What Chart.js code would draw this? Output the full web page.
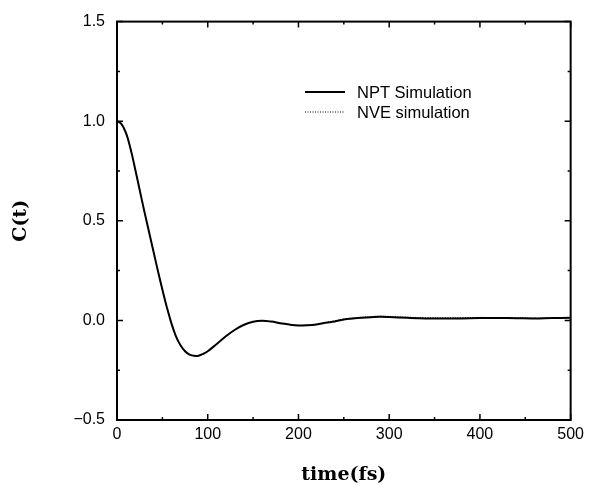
<!DOCTYPE html>
<html>
<head>
<meta charset="utf-8">
<script src="https://cdn.jsdelivr.net/npm/chart.js@4"></script>
<style>
  html, body { margin: 0; padding: 0; background: #fff; }
  #wrap { width: 589px; height: 485px; }
</style>
</head>
<body>
<div id="wrap"><canvas id="corrChart" width="589" height="485"></canvas></div>
<script>
// time axis (fs) and correlation function values
const timeFs = [0, 5, 10, 15, 20, 25, 30, 35, 40, 45, 50, 55, 60, 65, 70, 75, 80, 85, 90, 95, 100,
  110, 120, 130, 140, 150, 160, 170, 180, 190, 200, 210, 220, 230, 240, 250, 260, 270, 280, 290, 300,
  320, 340, 360, 380, 400, 420, 440, 460, 480, 500];
const nptValues = [1.0, 0.985, 0.94, 0.86, 0.76, 0.655, 0.55, 0.45, 0.35, 0.25, 0.155, 0.065, -0.015,
  -0.08, -0.125, -0.155, -0.172, -0.178, -0.177, -0.168, -0.155,
  -0.118, -0.08, -0.047, -0.022, -0.007, -0.002, -0.006, -0.014, -0.021, -0.025, -0.024, -0.02, -0.012,
  -0.005, 0.004, 0.009, 0.013, 0.016, 0.018, 0.017,
  0.013, 0.01, 0.009, 0.01, 0.012, 0.012, 0.011, 0.01, 0.012, 0.013];
const nveValues = [1.0, 0.985, 0.94, 0.86, 0.76, 0.655, 0.55, 0.45, 0.35, 0.25, 0.155, 0.065, -0.015,
  -0.08, -0.125, -0.155, -0.172, -0.178, -0.177, -0.168, -0.155,
  -0.118, -0.08, -0.047, -0.022, -0.007, -0.002, -0.006, -0.014, -0.021, -0.025, -0.023, -0.018, -0.01,
  -0.002, 0.007, 0.012, 0.016, 0.019, 0.021, 0.02,
  0.016, 0.014, 0.013, 0.014, 0.015, 0.014, 0.013, 0.012, 0.013, 0.014];
const xTicks = [0, 100, 200, 300, 400, 500];
const yTicks = [-0.5, 0.0, 0.5, 1.0, 1.5];
const seriesNames = ["NPT Simulation", "NVE simulation"];

const toPoints = vals => timeFs.map((t, i) => ({ x: t, y: vals[i] }));
const fmtY = v => v.toFixed(1).replace('-', '\u2212');

// inward ticks on all four sides, frame box and the legend
const framePlugin = {
  id: 'frame',
  afterDraw(chart) {
    const { ctx, chartArea: a, scales } = chart;
    const xs = scales.x, ys = scales.y;
    ctx.save();
    ctx.strokeStyle = '#000';
    ctx.lineWidth = 2;
    ctx.strokeRect(a.left, a.top, a.right - a.left, a.bottom - a.top);
    ctx.lineWidth = 1.5;
    ctx.beginPath();
    for (let t = 0; t <= 500; t += 50) {
      const px = xs.getPixelForValue(t);
      const len = t % 100 === 0 ? 6 : 3;
      ctx.moveTo(px, a.bottom); ctx.lineTo(px, a.bottom - len);
      ctx.moveTo(px, a.top); ctx.lineTo(px, a.top + len);
    }
    for (let v = -0.5; v <= 1.5001; v += 0.25) {
      const py = ys.getPixelForValue(v);
      const len = Math.abs(v * 2 - Math.round(v * 2)) < 1e-6 ? 6 : 3;
      ctx.moveTo(a.left, py); ctx.lineTo(a.left + len, py);
      ctx.moveTo(a.right, py); ctx.lineTo(a.right - len, py);
    }
    ctx.stroke();

    // legend
    ctx.font = '16.5px "Liberation Sans", Arial, sans-serif';
    ctx.fillStyle = '#000';
    ctx.textBaseline = 'middle';
    chart.data.datasets.forEach((ds, i) => {
      const y = 92 + i * 20;
      ctx.beginPath();
      ctx.lineWidth = ds.borderWidth;
      ctx.setLineDash(ds.borderDash || []);
      ctx.moveTo(305, y); ctx.lineTo(345, y);
      ctx.stroke();
      ctx.setLineDash([]);
      ctx.fillText(ds.label, 357, y + 1);
    });
    ctx.restore();
  }
};

new Chart(document.getElementById('corrChart'), {
  type: 'line',
  data: {
    datasets: [
      {
        label: seriesNames[0],
        data: toPoints(nptValues),
        borderColor: '#000',
        borderWidth: 2,
        pointRadius: 0,
        tension: 0.4
      },
      {
        label: seriesNames[1],
        data: toPoints(nveValues),
        borderColor: '#000',
        borderWidth: 1,
        borderDash: [1, 1.5],
        pointRadius: 0,
        tension: 0.4
      }
    ]
  },
  options: {
    responsive: false,
    animation: false,
    layout: { padding: { left: 0, right: 17, top: 18, bottom: 0 } },
    plugins: { legend: { display: false }, tooltip: { enabled: false } },
    scales: {
      x: {
        type: 'linear',
        min: 0,
        max: 500,
        afterFit: s => { s.height = 65; },
        afterBuildTicks: s => { s.ticks = xTicks.map(v => ({ value: v })); },
        grid: { display: false, drawTicks: false },
        border: { display: false },
        ticks: {
          color: '#000',
          padding: 5,
          maxRotation: 0,
          font: { family: '"Liberation Sans", Arial, sans-serif', size: 16 }
        },
        title: {
          display: true,
          text: 'time(fs)',
          color: '#000',
          padding: { top: 0, bottom: 0 },
          font: { family: '"DejaVu Serif", serif', size: 19, weight: 'bold', lineHeight: 1.0 }
        }
      },
      y: {
        min: -0.5,
        max: 1.5,
        afterFit: s => { s.width = 117; },
        afterBuildTicks: s => { s.ticks = yTicks.map(v => ({ value: v })); },
        grid: { display: false, drawTicks: false },
        border: { display: false },
        ticks: {
          color: '#000',
          padding: 12,
          callback: v => fmtY(v),
          font: { family: '"Liberation Sans", Arial, sans-serif', size: 16 }
        },
        title: {
          display: true,
          text: 'C(t)',
          color: '#000',
          padding: { top: 12, bottom: 0 },
          font: { family: '"DejaVu Serif", serif', size: 19, weight: 'bold', lineHeight: 1.0 }
        }
      }
    }
  },
  plugins: [framePlugin]
});
</script>
</body>
</html>
